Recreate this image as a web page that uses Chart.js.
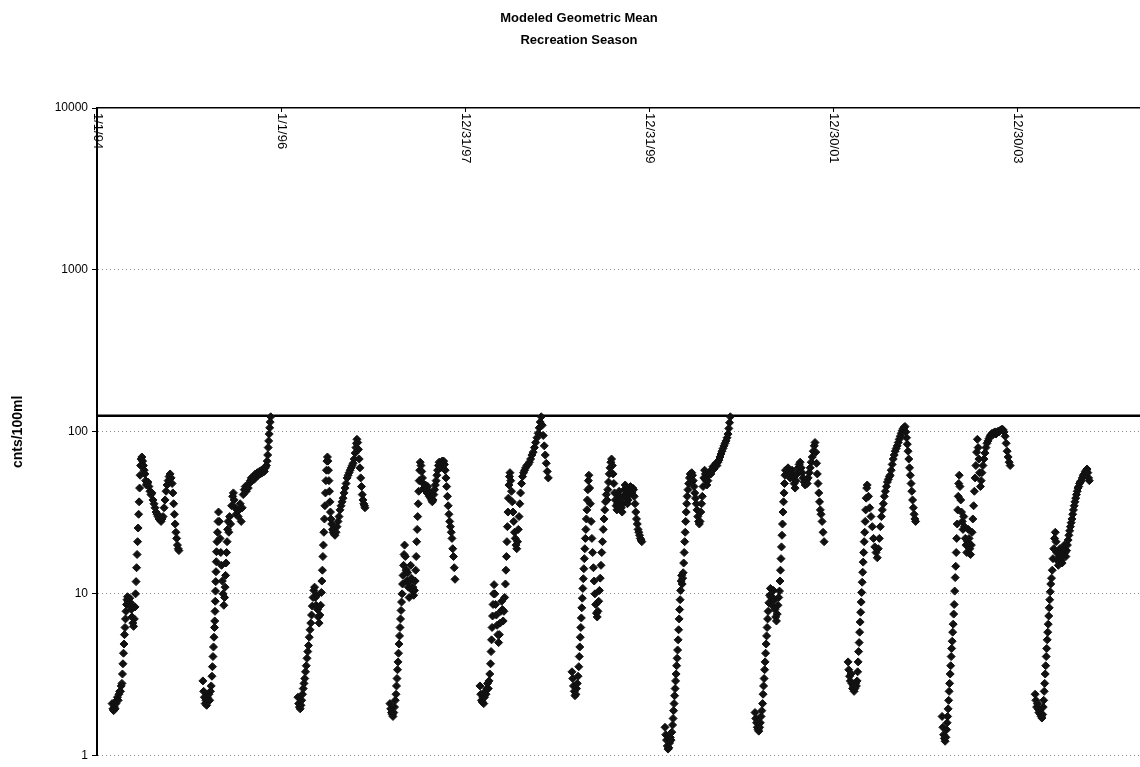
<!DOCTYPE html>
<html>
<head>
<meta charset="utf-8">
<script src="https://cdn.jsdelivr.net/npm/chart.js@4.4.1/dist/chart.umd.min.js"></script>
<style>
  html, body { margin: 0; padding: 0; background: #fff; }
  #wrap { width: 1140px; height: 767px; position: relative; }
</style>
</head>
<body>
<div id="wrap"><canvas id="gmChart"></canvas></div>
<script>
// ---------- Data: x = days since 1/1/94, y = cnts/100ml ----------
const xTickDays = [0, 730, 1460, 2190, 2920, 3650];
const xTickLabels = ["1/1/94", "1/1/96", "12/31/97", "12/31/99", "12/30/01", "12/30/03"];
const yTickValues = [1, 10, 100, 1000, 10000];
const thresholdValue = 126;
const xMaxDay = 4137;

const season1994 = [
  [60,2.1],[63,1.95],[66,1.9],[69,2.0],[72,1.95],[75,2.1],[78,2.2],[81,2.3],[84,2.2],[87,2.4],[90,2.5],[93,2.5],[96,2.7],[99,2.8],
  [101,3.2],[103,3.7],[105,4.3],[107,4.9],[109,5.6],[111,6.2],
  [113,7.0],[115,7.8],[117,8.6],[119,9.2],[121,9.6],[124,9.0],[127,8.6],[130,9.4],[133,8.8],[136,8.0],[139,7.2],[142,6.6],[145,6.3],[148,7.0],[151,8.3],
  [153,10],[155,11.9],[157,14.5],[159,17.5],[161,21],[163,25.5],[165,31],[167,37],[169,45],[171,54],[173,62],[175,68],
  [178,70],[181,66],[184,62],[187,58],[190,55],[193,50],[196,47],[199,48],[202,49],[206,46],[210,43],[214,41],[218,42],[222,38],[226,36],[230,34],[234,32],[238,31],[242,30],[246,29],[250,30],[254,28],[258,29],[262,30],
  [266,34],[270,38],[274,43],[278,47],[282,50],[286,53],[290,55],[294,52],[298,48],
  [301,42],[304,36],[307,31],[310,27],[313,24],[316,22],[319,20],[322,19],[325,18.5]
];
const season1995 = [
  [420,2.9],[423,2.5],[426,2.3],[429,2.1],[432,2.2],[435,2.05],[438,2.3],[441,2.2],[444,2.4],[447,2.2],[450,2.5],[453,2.7],
  [456,3.1],[458,3.55],[460,4.1],[462,4.7],[464,5.4],[466,6.2],[467,6.8],[468,7.8],[469,9.0],[470,10.4],[471,11.9],[472,13.7],[473,15.8],[474,18.2],[476,21],[478,24],[480,28],[482,32],
  [485,28],[488,22],[491,18],[494,15],[497,12],[500,10],[503,8.5],[506,9.5],[508,11],[510,13],[512,15.5],[514,18],[516,21],[518,25],[520,28],
  [523,24],[526,30],[530,27],[534,35],[538,40],[541,42],[544,38],[548,34],[552,31],[556,33],[560,30],[564,33],[568,36],[572,28],[576,34],[580,41],
  [584,44],[588,46],[592,43],[596,47],[600,45],[604,48],[608,50],[612,52],[616,50],[620,53],[624,51],[628,55],[632,53],[636,56],[640,54],[644,57],[648,55],[652,58],[656,56],[660,59],[664,57],[668,60],
  [672,62],[675,66],[677,72],[679,80],[681,88],[683,97],[685,106],[687,115],[689,124]
];
const season1996 = [
  [797,2.3],[800,2.1],[803,2.0],[806,1.95],[809,2.05],[812,2.2],[815,2.4],[818,2.6],[821,2.8],[824,3.0],[827,3.3],[830,3.6],[833,4.0],[836,4.4],[839,4.8],[842,5.4],[845,6.0],
  [848,6.6],[851,7.4],[854,8.4],[857,9.5],[860,10.5],[863,11],[866,9.5],[869,8.5],[872,9.8],[875,8.0],[878,7.2],[881,6.6],[884,7.4],[887,8.5],
  [890,10.2],[892,12],[894,14],[896,17],[898,20],[900,24],[902,29],[904,35],[906,42],[908,50],[910,58],[912,66],[914,70],
  [916,66],[918,58],[920,50],[922,43],[924,37],[926,32],[928,29],[931,27],[934,25],[937,24],[940,23.5],[944,23],
  [948,24],[952,26],[956,28],[960,30],[964,33],[968,35],[972,37],[976,39],[980,42],[984,45],[988,48],[992,52],[996,54],[1000,56],[1004,58],[1008,60],[1012,62],[1016,64],[1020,68],[1024,74],[1027,80],[1029,85],[1031,90],
  [1034,86],[1037,78],[1040,68],[1043,60],[1046,52],[1049,46],[1052,41],[1055,38],[1058,36],[1061,35],[1063,34]
];
const season1997 = [
  [1162,2.1],[1165,1.95],[1168,1.85],[1171,1.8],[1174,1.75],[1177,1.85],[1180,2.0],[1183,2.2],[1186,2.4],
  [1188,2.7],[1190,3.0],[1192,3.4],[1194,3.8],[1196,4.3],[1198,4.9],[1200,5.5],[1202,6.2],[1204,7.0],[1206,7.9],[1208,8.9],[1210,10],[1212,11.5],[1214,13],[1216,15],[1218,17.5],[1220,20],
  [1223,17],[1226,14],[1229,12],[1232,13.5],[1235,11],[1238,9.5],[1241,12],[1244,15],[1247,12.5],[1250,10.5],[1253,11],[1256,9.8],[1259,10.5],
  [1262,12],[1264,14],[1266,17],[1268,21],[1270,25],[1272,30],[1274,36],[1276,43],[1278,50],[1280,58],[1282,65],
  [1285,62],[1288,57],[1291,52],[1294,48],[1297,45],[1300,44],[1303,47],[1306,45],[1309,42],[1312,46],[1315,43],[1318,40],[1321,42],[1324,39],[1327,38],[1330,37],[1333,38],
  [1336,41],[1339,44],[1342,47],[1345,50],[1348,54],[1351,58],[1354,62],[1357,65],[1360,63],[1363,60],[1366,64],[1369,66],[1372,65],[1375,66],[1378,63],
  [1381,58],[1384,52],[1387,46],[1390,40],[1393,35],[1396,31],[1399,28],[1402,26],[1405,24],[1408,22],[1411,19],[1414,17],[1417,14.5],[1420,12.3]
];
const season1998 = [
  [1519,2.7],[1522,2.4],[1525,2.2],[1528,2.15],[1531,2.3],[1534,2.1],[1537,2.3],[1540,2.5],[1543,2.4],[1546,2.6],[1549,2.8],[1552,2.6],[1555,2.9],
  [1558,3.2],[1561,3.7],[1563,4.4],[1565,5.2],[1567,6.2],[1569,7.3],[1571,8.6],[1573,10],[1575,11.4],
  [1578,10],[1581,8.6],[1584,7.4],[1587,6.4],[1590,5.6],[1593,5.0],[1596,5.6],[1599,6.6],[1602,7.8],[1605,9.0],[1608,8.0],[1611,6.8],[1614,7.8],[1617,9.5],
  [1620,11.5],[1622,14],[1624,17],[1626,21],[1628,26],[1630,32],[1632,39],[1634,47],[1636,53],[1638,56],
  [1641,50],[1644,43],[1647,37],[1650,32],[1653,28],[1656,24],[1659,22],[1662,20],[1665,19],
  [1668,21],[1671,25],[1674,30],[1677,36],[1680,42],[1684,48],[1688,53],[1692,56],[1696,58],[1700,60],[1705,62],[1710,63],[1715,65],[1720,68],[1725,72],[1730,75],[1735,80],[1740,86],[1745,92],[1750,98],[1754,106],[1758,115],[1762,124],
  [1766,110],[1770,95],[1774,82],[1778,72],[1782,64],[1786,57],[1790,52]
];
const season1999 = [
  [1884,3.3],[1887,3.0],[1890,2.7],[1893,2.5],[1896,2.35],[1899,2.4],[1902,2.6],[1905,2.8],[1908,3.1],
  [1911,3.55],[1913,4.1],[1915,4.7],[1917,5.4],[1919,6.2],[1921,7.1],[1923,8.2],[1925,9.4],[1927,10.8],[1929,12.4],[1931,14.3],[1933,16.5],[1935,19],[1937,22],[1939,25],[1941,29],[1943,33],[1945,38],[1947,44],[1949,50],[1951,54],
  [1954,45],[1957,36],[1960,28],[1963,22],[1966,18],[1969,14.5],[1972,12],[1975,10],[1978,8.6],[1981,7.6],[1984,7.2],
  [1987,7.8],[1990,9.0],[1993,10.5],[1996,12.5],[1999,15],[2002,18],[2005,21],[2008,25],[2011,29],[2014,33],[2017,37],[2020,41],[2023,38],[2026,44],[2029,49],[2032,55],[2035,60],[2038,65],[2041,68],
  [2044,62],[2047,55],[2050,48],[2053,42],[2056,38],[2059,35],[2062,33],[2065,36],[2068,40],[2071,43],[2074,40],[2077,37],[2080,34],[2083,32],[2086,36],[2089,40],[2092,44],[2095,47],
  [2098,43],[2101,39],[2104,36],[2107,38],[2110,41],[2113,44],[2116,46],[2119,44],[2122,42],[2125,45],[2128,44],
  [2131,40],[2134,36],[2137,32],[2140,29],[2143,27],[2146,25],[2149,24],[2152,23],[2155,22],[2158,21.5],[2161,21]
];
const season2000 = [
  [2253,1.5],[2256,1.35],[2259,1.25],[2262,1.15],[2265,1.1],[2268,1.12],[2271,1.2],[2274,1.3],[2277,1.25],[2280,1.4],
  [2283,1.55],[2285,1.7],[2287,1.9],[2289,2.1],[2291,2.35],[2293,2.6],[2295,2.9],[2297,3.2],[2299,3.6],[2301,4.0],[2303,4.5],[2305,5.2],[2307,6.0],[2309,7.0],[2311,8.0],[2313,9.2],[2315,10.5],
  [2317,12],[2319,13],[2321,11.5],[2323,12.5],[2325,13.5],
  [2327,15.5],[2329,18],[2331,21],[2333,24],[2335,28],[2337,32],[2339,36],[2341,40],[2344,44],[2347,48],[2350,52],[2353,55],[2356,53],[2359,56],[2362,54],
  [2365,50],[2368,46],[2371,42],[2374,39],[2377,36],[2380,33],[2383,30],[2386,28],[2389,27],[2392,28],
  [2395,32],[2398,36],[2401,40],[2404,46],[2407,52],[2410,58],[2413,55],[2416,50],[2419,47],[2423,50],[2427,54],[2431,57],[2435,55],[2439,58],[2443,61],[2447,59],[2451,62],[2455,64],[2459,62],[2463,65],
  [2467,67],[2471,70],[2475,73],[2479,76],[2483,79],[2487,82],[2491,85],[2495,88],[2499,92],[2503,97],[2506,105],[2509,114],[2512,124]
];
const season2001 = [
  [2610,1.85],[2613,1.7],[2616,1.6],[2619,1.5],[2622,1.45],[2625,1.42],[2628,1.5],[2631,1.6],[2634,1.75],[2637,1.9],
  [2640,2.1],[2642,2.4],[2644,2.7],[2646,3.0],[2648,3.4],[2650,3.8],[2652,4.3],[2654,4.9],[2656,5.5],[2658,6.2],[2660,7.0],[2662,7.8],[2665,8.8],[2668,9.8],[2671,10.8],
  [2674,9.5],[2677,8.5],[2680,9.5],[2683,10.5],[2686,9.2],[2689,8.0],[2692,7.2],[2695,6.8],[2698,7.5],[2701,8.5],[2704,9.5],
  [2707,10.4],[2709,12],[2711,14],[2713,16.5],[2715,19.5],[2717,23],[2719,27],[2721,32],[2723,37],[2725,42],[2727,48],[2729,54],[2731,58],
  [2734,55],[2737,58],[2741,60],[2745,56],[2749,52],[2753,55],[2757,58],[2761,52],[2765,48],[2769,45],[2773,50],[2777,55],[2781,60],[2785,63],[2789,65],
  [2793,60],[2797,56],[2801,52],[2805,49],[2809,47],[2813,50],[2817,48],[2821,52],[2825,56],[2829,60],[2833,65],[2837,70],[2841,76],[2845,82],[2848,86],
  [2851,75],[2854,64],[2857,55],[2860,48],[2863,42],[2866,37],[2869,33],[2872,31],[2876,28],[2880,24],[2884,21]
];
const season2002 = [
  [2979,3.8],[2982,3.4],[2985,3.1],[2988,2.9],[2991,3.2],[2994,2.8],[2997,2.6],[3000,2.7],[3003,2.5],[3006,2.6],[3009,2.8],[3012,2.7],[3015,2.9],
  [3017,3.3],[3019,3.8],[3021,4.4],[3023,5.0],[3025,5.8],[3027,6.7],[3029,7.7],[3031,8.9],[3033,10.2],[3035,11.8],[3037,13.6],[3039,15.7],[3041,18],[3043,21],[3045,24],[3047,28],[3049,33],[3051,39],[3053,45],[3055,47],
  [3060,40],[3065,34],[3070,30],[3075,26],[3080,22],[3085,19.5],[3090,18],[3095,16.7],
  [3099,19],[3103,22],[3107,26],[3111,30],[3115,33],[3119,36],[3123,40],[3127,43],[3131,46],[3135,49],[3139,51],[3143,53],[3146,54],[3150,58],[3154,63],[3158,68],[3162,72],[3166,76],[3170,79],[3174,82],
  [3178,86],[3182,90],[3186,94],[3190,98],[3194,102],[3198,105],[3202,107],[3205,108],
  [3208,100],[3211,92],[3214,84],[3217,76],[3220,68],[3223,60],[3226,54],[3229,48],[3232,43],[3235,38],[3238,34],[3241,31],[3244,29],[3247,28]
];
const season2003 = [
  [3352,1.75],[3355,1.5],[3358,1.35],[3361,1.28],[3364,1.23],[3367,1.3],[3370,1.45],[3372,1.6],[3374,1.75],[3376,1.95],[3378,2.2],[3380,2.5],[3382,2.8],[3384,3.2],[3386,3.6],[3388,4.1],[3390,4.6],[3392,5.1],
  [3394,5.8],[3396,6.5],[3398,7.5],[3400,8.6],[3402,10.4],[3404,12.6],[3406,14.8],[3408,18],[3410,22],[3412,27],[3414,33],[3416,40],[3418,48],[3420,54],
  [3423,46],[3426,38],[3429,32],[3432,28],[3435,25],[3438,30],[3441,26],[3444,22],[3447,20],[3450,18],[3453,21],[3456,25],[3459,22],[3462,19],[3465,17.5],
  [3468,20],[3471,24],[3474,29],[3477,35],[3480,43],[3483,52],[3486,62],[3489,75],[3492,90],
  [3495,80],[3498,68],[3501,56],[3504,46],[3507,50],[3510,56],[3514,62],[3518,68],[3522,74],[3526,80],[3530,85],[3534,88],[3538,91],[3542,94],
  [3546,96],[3550,98],[3554,96],[3558,99],[3562,100],[3566,97],[3570,99],[3574,101],[3578,100],[3582,102],[3586,103],[3590,104],[3594,103],
  [3598,100],[3602,94],[3606,85],[3610,76],[3614,70],[3618,65],[3622,62]
];
const season2004 = [
  [3721,2.4],[3724,2.2],[3727,2.0],[3730,2.1],[3733,1.95],[3736,1.85],[3739,1.9],[3742,1.8],[3745,1.75],[3748,1.71],
  [3751,1.8],[3753,2.0],[3755,2.2],[3757,2.5],[3759,2.8],[3761,3.2],[3763,3.6],[3765,4.1],[3767,4.6],[3769,5.2],[3771,5.8],[3773,6.5],[3775,7.3],[3777,8.2],[3779,9.2],[3781,10.3],[3783,11.5],
  [3786,12.5],[3789,14],[3792,16.5],[3795,19],[3798,22],[3801,24],[3804,21],[3807,18],[3810,16],[3813,15],[3816,17],[3819,19],[3822,17.5],[3825,16],[3828,15.5],[3831,17],[3834,19],[3837,20],[3840,18],[3843,17],
  [3846,18.5],[3849,20],[3852,21.5],[3855,23],[3858,24.5],[3861,26],[3864,27.5],[3867,29],[3870,31],[3873,33],[3876,35],[3879,37],[3882,39],[3885,41],[3888,43],[3891,45],[3894,46],[3897,48],[3900,49],
  [3904,50],[3908,52],[3912,54],[3916,55],[3920,57],[3924,58],[3927,59],[3930,56],[3933,52],[3936,50]
];

const seasons = [season1994, season1995, season1996, season1997, season1998, season1999,
                 season2000, season2001, season2002, season2003, season2004];

// ---------- Chart ----------
const FONT = "'Liberation Sans', Arial, sans-serif";
Chart.defaults.font.family = FONT;
Chart.defaults.color = "#000";

// title (two bold lines over the plot)
const chartTitle = {
  id: "chartTitle",
  afterDraw(chart) {
    const ctx = chart.ctx;
    ctx.save();
    ctx.font = "bold 13px " + FONT;
    ctx.fillStyle = "#000";
    ctx.textAlign = "center";
    ctx.textBaseline = "middle";
    ctx.fillText("Modeled Geometric Mean", 579, 18);
    ctx.fillText("Recreation Season", 579, 40);
    ctx.restore();
  }
};

// date labels hang down from the top axis, rotated clockwise
const topDateLabels = {
  id: "topDateLabels",
  afterDraw(chart) {
    const { ctx, chartArea, scales } = chart;
    const xs = scales.x;
    ctx.save();
    ctx.font = "13px " + FONT;
    ctx.fillStyle = "#000";
    ctx.strokeStyle = "#000";
    ctx.lineWidth = 1;
    ctx.textAlign = "left";
    ctx.textBaseline = "middle";
    xs.ticks.forEach((t) => {
      const x = Math.round(xs.getPixelForValue(t.value)) + 0.5;
      ctx.beginPath();
      ctx.moveTo(x, chartArea.top);
      ctx.lineTo(x, chartArea.top + 4);
      ctx.stroke();
      ctx.save();
      ctx.translate(x, chartArea.top + 5);
      ctx.rotate(Math.PI / 2);
      ctx.fillText(xTickLabels[xTickDays.indexOf(t.value)], 0, 0);
      ctx.restore();
    });
    ctx.restore();
  }
};

new Chart(document.getElementById("gmChart"), {
  data: {
    datasets: [
      {
        type: "scatter",
        label: "Geometric mean",
        data: seasons.flat().map(([x, y]) => ({ x, y })),
        pointStyle: "rectRot",
        pointRadius: 4,
        pointBorderWidth: 1,
        backgroundColor: "#111",
        borderColor: "#111",
      },
      {
        type: "line",
        label: "Standard",
        data: [{ x: 0, y: thresholdValue }, { x: xMaxDay, y: thresholdValue }],
        borderColor: "#000",
        borderWidth: 2.5,
        pointRadius: 0,
        fill: false,
      },
    ],
  },
  options: {
    responsive: true,
    maintainAspectRatio: false,
    animation: false,
    layout: { autoPadding: false, padding: { top: 108, right: 0, bottom: 4, left: 0 } },
    plugins: { legend: { display: false }, tooltip: { enabled: false }, title: { display: false } },
    scales: {
      x: {
        type: "linear",
        position: "top",
        min: 0,
        max: xMaxDay,
        afterBuildTicks: (s) => { s.ticks = xTickDays.map((v) => ({ value: v })); },
        afterFit: (s) => { s.height = 0; },
        ticks: { display: false },
        grid: { display: false },
        border: { display: true, color: "#000", width: 1.5 },
      },
      y: {
        type: "logarithmic",
        min: 1,
        max: 10000,
        afterBuildTicks: (s) => { s.ticks = yTickValues.map((v) => ({ value: v })); },
        afterFit: (s) => { s.width = 97; },
        ticks: { font: { size: 12 }, color: "#000", padding: 4, callback: (v) => String(v) },
        grid: {
          color: (c) => (c.tick && c.tick.value === 10000 ? "rgba(0,0,0,0)" : "#8c8c8c"),
          lineWidth: 1,
          tickColor: "#000",
          tickLength: 5,
        },
        border: { display: true, color: "#000", width: 2, dash: [1, 3] },
        title: {
          display: true,
          text: "cnts/100ml",
          font: { size: 14, weight: "bold" },
          color: "#000",
          padding: { top: 10, bottom: 0 },
        },
      },
    },
  },
  plugins: [chartTitle, topDateLabels],
});
</script>
</body>
</html>
